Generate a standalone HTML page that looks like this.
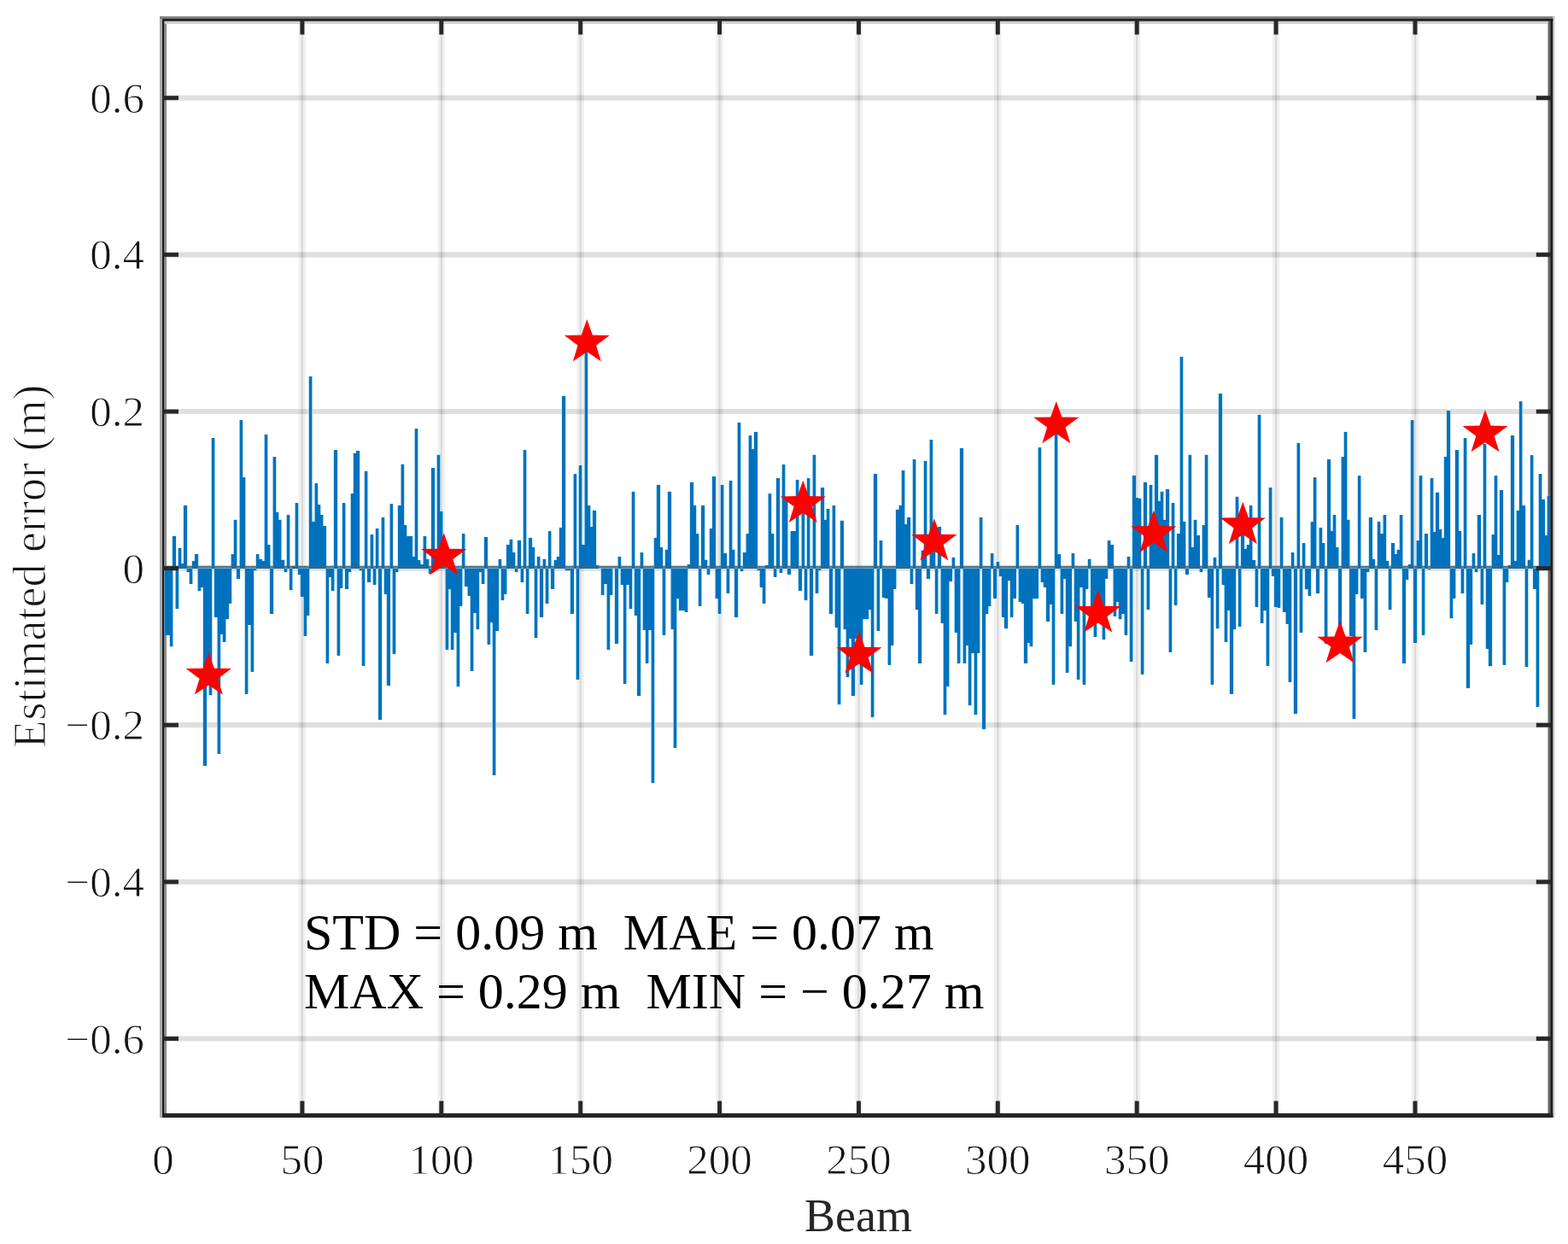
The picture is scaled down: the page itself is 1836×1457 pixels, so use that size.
<!DOCTYPE html><html><head><meta charset="utf-8"><title>Estimated error per beam</title><style>html,body{margin:0;padding:0;background:#fff;}svg{display:block;}text{font-family:"Liberation Serif","Times New Roman",serif;fill:#262626;} .tk{fill:#141414;stroke:#fff;stroke-width:0.9px;} .yl{fill:#141414;stroke:#fff;stroke-width:1.1px;}</style></head><body>
<svg width="1836" height="1457" viewBox="0 0 1836 1457">
<rect width="1836" height="1457" fill="#fff"/>
<g stroke="#000"><line x1="353.9" y1="23.4" x2="353.9" y2="1306.4" stroke-width="8.6" stroke-opacity="0.055"/><line x1="353.9" y1="23.4" x2="353.9" y2="1306.4" stroke-width="2.4" stroke-opacity="0.09"/><line x1="516.8" y1="23.4" x2="516.8" y2="1306.4" stroke-width="8.6" stroke-opacity="0.055"/><line x1="516.8" y1="23.4" x2="516.8" y2="1306.4" stroke-width="2.4" stroke-opacity="0.09"/><line x1="679.7" y1="23.4" x2="679.7" y2="1306.4" stroke-width="8.6" stroke-opacity="0.055"/><line x1="679.7" y1="23.4" x2="679.7" y2="1306.4" stroke-width="2.4" stroke-opacity="0.09"/><line x1="842.6" y1="23.4" x2="842.6" y2="1306.4" stroke-width="8.6" stroke-opacity="0.055"/><line x1="842.6" y1="23.4" x2="842.6" y2="1306.4" stroke-width="2.4" stroke-opacity="0.09"/><line x1="1005.5" y1="23.4" x2="1005.5" y2="1306.4" stroke-width="8.6" stroke-opacity="0.055"/><line x1="1005.5" y1="23.4" x2="1005.5" y2="1306.4" stroke-width="2.4" stroke-opacity="0.09"/><line x1="1168.3" y1="23.4" x2="1168.3" y2="1306.4" stroke-width="8.6" stroke-opacity="0.055"/><line x1="1168.3" y1="23.4" x2="1168.3" y2="1306.4" stroke-width="2.4" stroke-opacity="0.09"/><line x1="1331.2" y1="23.4" x2="1331.2" y2="1306.4" stroke-width="8.6" stroke-opacity="0.055"/><line x1="1331.2" y1="23.4" x2="1331.2" y2="1306.4" stroke-width="2.4" stroke-opacity="0.09"/><line x1="1494.1" y1="23.4" x2="1494.1" y2="1306.4" stroke-width="8.6" stroke-opacity="0.055"/><line x1="1494.1" y1="23.4" x2="1494.1" y2="1306.4" stroke-width="2.4" stroke-opacity="0.09"/><line x1="1657.0" y1="23.4" x2="1657.0" y2="1306.4" stroke-width="8.6" stroke-opacity="0.055"/><line x1="1657.0" y1="23.4" x2="1657.0" y2="1306.4" stroke-width="2.4" stroke-opacity="0.09"/><line x1="191.0" y1="114.7" x2="1816.5" y2="114.7" stroke-width="6.2" stroke-opacity="0.125"/><line x1="191.0" y1="298.3" x2="1816.5" y2="298.3" stroke-width="6.2" stroke-opacity="0.125"/><line x1="191.0" y1="482.0" x2="1816.5" y2="482.0" stroke-width="6.2" stroke-opacity="0.125"/><line x1="191.0" y1="665.6" x2="1816.5" y2="665.6" stroke-width="6.2" stroke-opacity="0.125"/><line x1="191.0" y1="849.2" x2="1816.5" y2="849.2" stroke-width="6.2" stroke-opacity="0.125"/><line x1="191.0" y1="1032.9" x2="1816.5" y2="1032.9" stroke-width="6.2" stroke-opacity="0.125"/><line x1="191.0" y1="1216.5" x2="1816.5" y2="1216.5" stroke-width="6.2" stroke-opacity="0.125"/></g>
<rect x="192.3" y="24.8" width="2.7" height="1279.2" fill="#8c8c8c"/>
<rect x="1812.5" y="24.8" width="2.7" height="1279.2" fill="#666"/>
<g fill="#86c6e8"><rect x="191.96" y="665.6" width="4.60" height="78.0"/><rect x="195.22" y="665.6" width="4.60" height="78.0"/><rect x="198.47" y="665.6" width="4.60" height="91.8"/><rect x="201.73" y="628.0" width="4.60" height="37.6"/><rect x="204.99" y="665.6" width="4.60" height="47.7"/><rect x="208.25" y="641.7" width="4.60" height="23.9"/><rect x="211.50" y="660.1" width="4.60" height="5.5"/><rect x="214.76" y="592.1" width="4.60" height="73.5"/><rect x="218.02" y="665.6" width="4.60" height="4.6"/><rect x="221.28" y="665.6" width="4.60" height="18.4"/><rect x="224.54" y="657.3" width="4.60" height="8.3"/><rect x="227.79" y="649.1" width="4.60" height="16.5"/><rect x="231.05" y="665.6" width="4.60" height="26.6"/><rect x="234.31" y="665.6" width="4.60" height="22.0"/><rect x="237.57" y="665.6" width="4.60" height="231.4"/><rect x="240.82" y="665.6" width="4.60" height="125.8"/><rect x="244.08" y="665.6" width="4.60" height="148.7"/><rect x="247.34" y="513.2" width="4.60" height="152.4"/><rect x="250.60" y="665.6" width="4.60" height="56.9"/><rect x="253.86" y="665.6" width="4.60" height="217.6"/><rect x="257.11" y="665.6" width="4.60" height="77.1"/><rect x="260.37" y="665.6" width="4.60" height="86.3"/><rect x="263.63" y="665.6" width="4.60" height="59.7"/><rect x="266.89" y="665.6" width="4.60" height="41.3"/><rect x="270.14" y="649.1" width="4.60" height="16.5"/><rect x="273.40" y="608.7" width="4.60" height="56.9"/><rect x="276.66" y="665.6" width="4.60" height="11.9"/><rect x="279.92" y="492.1" width="4.60" height="173.5"/><rect x="283.18" y="559.1" width="4.60" height="106.5"/><rect x="286.43" y="665.6" width="4.60" height="146.9"/><rect x="289.69" y="665.6" width="4.60" height="66.1"/><rect x="292.95" y="665.6" width="4.60" height="121.2"/><rect x="296.21" y="665.6" width="4.60" height="2.8"/><rect x="299.47" y="649.1" width="4.60" height="16.5"/><rect x="302.72" y="654.6" width="4.60" height="11.0"/><rect x="305.98" y="657.3" width="4.60" height="8.3"/><rect x="309.24" y="508.6" width="4.60" height="157.0"/><rect x="312.50" y="638.1" width="4.60" height="27.5"/><rect x="315.75" y="665.6" width="4.60" height="53.3"/><rect x="319.01" y="535.2" width="4.60" height="130.4"/><rect x="322.27" y="599.5" width="4.60" height="66.1"/><rect x="325.53" y="608.7" width="4.60" height="56.9"/><rect x="328.79" y="655.5" width="4.60" height="10.1"/><rect x="332.04" y="665.6" width="4.60" height="4.6"/><rect x="335.30" y="603.2" width="4.60" height="62.4"/><rect x="338.56" y="665.6" width="4.60" height="25.7"/><rect x="341.82" y="662.8" width="4.60" height="2.8"/><rect x="345.07" y="589.4" width="4.60" height="76.2"/><rect x="348.33" y="665.6" width="4.60" height="7.3"/><rect x="351.59" y="665.6" width="4.60" height="33.1"/><rect x="354.85" y="665.6" width="4.60" height="79.4"/><rect x="358.11" y="665.6" width="4.60" height="55.1"/><rect x="361.36" y="440.6" width="4.60" height="225.0"/><rect x="364.62" y="610.5" width="4.60" height="55.1"/><rect x="367.88" y="566.4" width="4.60" height="99.2"/><rect x="371.14" y="591.2" width="4.60" height="74.4"/><rect x="374.39" y="603.2" width="4.60" height="62.4"/><rect x="377.65" y="616.0" width="4.60" height="49.6"/><rect x="380.91" y="665.6" width="4.60" height="111.1"/><rect x="384.17" y="665.6" width="4.60" height="10.1"/><rect x="387.43" y="665.6" width="4.60" height="26.6"/><rect x="390.68" y="527.0" width="4.60" height="138.6"/><rect x="393.94" y="665.6" width="4.60" height="101.9"/><rect x="397.20" y="665.6" width="4.60" height="23.0"/><rect x="400.46" y="589.4" width="4.60" height="76.2"/><rect x="403.71" y="665.6" width="4.60" height="23.9"/><rect x="406.97" y="665.6" width="4.60" height="4.6"/><rect x="410.23" y="578.4" width="4.60" height="87.2"/><rect x="413.49" y="530.6" width="4.60" height="135.0"/><rect x="416.75" y="527.9" width="4.60" height="137.7"/><rect x="420.00" y="665.6" width="4.60" height="2.8"/><rect x="423.26" y="665.6" width="4.60" height="113.9"/><rect x="426.52" y="551.7" width="4.60" height="113.9"/><rect x="429.78" y="665.6" width="4.60" height="16.5"/><rect x="433.04" y="626.1" width="4.60" height="39.5"/><rect x="436.29" y="665.6" width="4.60" height="19.3"/><rect x="439.55" y="618.8" width="4.60" height="46.8"/><rect x="442.81" y="665.6" width="4.60" height="177.2"/><rect x="446.07" y="605.9" width="4.60" height="59.7"/><rect x="449.32" y="665.6" width="4.60" height="30.3"/><rect x="452.58" y="665.6" width="4.60" height="137.7"/><rect x="455.84" y="590.3" width="4.60" height="75.3"/><rect x="459.10" y="665.6" width="4.60" height="100.1"/><rect x="462.36" y="665.6" width="4.60" height="4.6"/><rect x="465.61" y="592.1" width="4.60" height="73.5"/><rect x="468.87" y="543.5" width="4.60" height="122.1"/><rect x="472.13" y="615.1" width="4.60" height="50.5"/><rect x="475.39" y="628.0" width="4.60" height="37.6"/><rect x="478.64" y="628.0" width="4.60" height="37.6"/><rect x="481.90" y="651.8" width="4.60" height="13.8"/><rect x="485.16" y="502.2" width="4.60" height="163.4"/><rect x="488.42" y="656.4" width="4.60" height="9.2"/><rect x="491.68" y="661.0" width="4.60" height="4.6"/><rect x="494.93" y="628.0" width="4.60" height="37.6"/><rect x="498.19" y="654.6" width="4.60" height="11.0"/><rect x="501.45" y="665.6" width="4.60" height="6.4"/><rect x="504.71" y="548.1" width="4.60" height="117.5"/><rect x="507.96" y="661.0" width="4.60" height="4.6"/><rect x="511.22" y="532.5" width="4.60" height="133.1"/><rect x="514.48" y="598.6" width="4.60" height="67.0"/><rect x="517.74" y="651.8" width="4.60" height="13.8"/><rect x="521.00" y="665.6" width="4.60" height="95.5"/><rect x="524.25" y="665.6" width="4.60" height="24.8"/><rect x="527.51" y="665.6" width="4.60" height="95.5"/><rect x="530.77" y="665.6" width="4.60" height="75.3"/><rect x="534.03" y="665.6" width="4.60" height="138.6"/><rect x="537.28" y="665.6" width="4.60" height="44.1"/><rect x="540.54" y="625.2" width="4.60" height="40.4"/><rect x="543.80" y="665.6" width="4.60" height="21.1"/><rect x="547.06" y="665.6" width="4.60" height="32.1"/><rect x="550.32" y="665.6" width="4.60" height="120.3"/><rect x="553.57" y="665.6" width="4.60" height="52.3"/><rect x="556.83" y="665.6" width="4.60" height="71.6"/><rect x="560.09" y="665.6" width="4.60" height="4.6"/><rect x="563.35" y="665.6" width="4.60" height="18.4"/><rect x="566.60" y="628.9" width="4.60" height="36.7"/><rect x="569.86" y="665.6" width="4.60" height="89.1"/><rect x="573.12" y="665.6" width="4.60" height="63.4"/><rect x="576.38" y="665.6" width="4.60" height="242.4"/><rect x="579.64" y="665.6" width="4.60" height="73.5"/><rect x="582.89" y="654.6" width="4.60" height="11.0"/><rect x="586.15" y="665.6" width="4.60" height="37.6"/><rect x="589.41" y="665.6" width="4.60" height="30.3"/><rect x="592.67" y="638.1" width="4.60" height="27.5"/><rect x="595.93" y="631.6" width="4.60" height="34.0"/><rect x="599.18" y="647.2" width="4.60" height="18.4"/><rect x="602.44" y="665.6" width="4.60" height="4.6"/><rect x="605.70" y="632.5" width="4.60" height="33.1"/><rect x="608.96" y="665.6" width="4.60" height="16.5"/><rect x="612.21" y="527.0" width="4.60" height="138.6"/><rect x="615.47" y="665.6" width="4.60" height="53.3"/><rect x="618.73" y="629.8" width="4.60" height="35.8"/><rect x="621.99" y="640.8" width="4.60" height="24.8"/><rect x="625.25" y="665.6" width="4.60" height="81.7"/><rect x="628.50" y="651.8" width="4.60" height="13.8"/><rect x="631.76" y="665.6" width="4.60" height="56.9"/><rect x="635.02" y="654.6" width="4.60" height="11.0"/><rect x="638.28" y="665.6" width="4.60" height="41.3"/><rect x="641.53" y="622.4" width="4.60" height="43.2"/><rect x="644.79" y="665.6" width="4.60" height="23.9"/><rect x="648.05" y="656.4" width="4.60" height="9.2"/><rect x="651.31" y="651.8" width="4.60" height="13.8"/><rect x="654.57" y="617.9" width="4.60" height="47.7"/><rect x="657.82" y="463.6" width="4.60" height="202.0"/><rect x="661.08" y="665.6" width="4.60" height="2.8"/><rect x="664.34" y="665.6" width="4.60" height="2.8"/><rect x="667.60" y="665.6" width="4.60" height="53.3"/><rect x="670.85" y="555.4" width="4.60" height="110.2"/><rect x="674.11" y="665.6" width="4.60" height="130.4"/><rect x="677.37" y="545.3" width="4.60" height="120.3"/><rect x="680.63" y="638.1" width="4.60" height="27.5"/><rect x="683.89" y="401.2" width="4.60" height="264.4"/><rect x="687.14" y="592.1" width="4.60" height="73.5"/><rect x="690.40" y="616.9" width="4.60" height="48.7"/><rect x="693.66" y="597.7" width="4.60" height="67.9"/><rect x="696.92" y="661.9" width="4.60" height="3.7"/><rect x="703.43" y="665.6" width="4.60" height="31.2"/><rect x="706.69" y="665.6" width="4.60" height="18.4"/><rect x="709.95" y="665.6" width="4.60" height="95.5"/><rect x="713.21" y="665.6" width="4.60" height="31.2"/><rect x="719.72" y="665.6" width="4.60" height="88.1"/><rect x="722.98" y="651.8" width="4.60" height="13.8"/><rect x="726.24" y="665.6" width="4.60" height="19.3"/><rect x="729.49" y="665.6" width="4.60" height="135.0"/><rect x="732.75" y="665.6" width="4.60" height="19.3"/><rect x="736.01" y="665.6" width="4.60" height="47.7"/><rect x="739.27" y="575.6" width="4.60" height="90.0"/><rect x="742.53" y="665.6" width="4.60" height="55.1"/><rect x="745.78" y="665.6" width="4.60" height="149.7"/><rect x="749.04" y="647.2" width="4.60" height="18.4"/><rect x="752.30" y="665.6" width="4.60" height="72.5"/><rect x="755.56" y="665.6" width="4.60" height="111.1"/><rect x="758.82" y="665.6" width="4.60" height="72.5"/><rect x="762.07" y="665.6" width="4.60" height="251.6"/><rect x="765.33" y="629.8" width="4.60" height="35.8"/><rect x="768.59" y="567.8" width="4.60" height="97.8"/><rect x="771.85" y="640.8" width="4.60" height="24.8"/><rect x="775.10" y="665.6" width="4.60" height="78.0"/><rect x="778.36" y="643.6" width="4.60" height="22.0"/><rect x="781.62" y="575.6" width="4.60" height="90.0"/><rect x="784.88" y="665.6" width="4.60" height="71.6"/><rect x="788.14" y="665.6" width="4.60" height="210.3"/><rect x="791.39" y="665.6" width="4.60" height="35.8"/><rect x="794.65" y="665.6" width="4.60" height="49.6"/><rect x="797.91" y="665.6" width="4.60" height="49.6"/><rect x="801.17" y="665.6" width="4.60" height="51.4"/><rect x="804.42" y="661.0" width="4.60" height="4.6"/><rect x="807.68" y="564.6" width="4.60" height="101.0"/><rect x="810.94" y="592.1" width="4.60" height="73.5"/><rect x="814.20" y="625.2" width="4.60" height="40.4"/><rect x="817.46" y="665.6" width="4.60" height="44.1"/><rect x="820.71" y="592.1" width="4.60" height="73.5"/><rect x="823.97" y="655.5" width="4.60" height="10.1"/><rect x="827.23" y="665.6" width="4.60" height="7.3"/><rect x="830.49" y="619.2" width="4.60" height="46.4"/><rect x="833.74" y="558.2" width="4.60" height="107.4"/><rect x="837.00" y="665.6" width="4.60" height="35.8"/><rect x="840.26" y="665.6" width="4.60" height="53.3"/><rect x="843.52" y="567.8" width="4.60" height="97.8"/><rect x="846.78" y="648.2" width="4.60" height="17.4"/><rect x="850.03" y="665.6" width="4.60" height="29.4"/><rect x="853.29" y="562.8" width="4.60" height="102.8"/><rect x="856.55" y="643.6" width="4.60" height="22.0"/><rect x="859.81" y="665.6" width="4.60" height="56.9"/><rect x="863.06" y="494.8" width="4.60" height="170.8"/><rect x="866.32" y="665.6" width="4.60" height="3.7"/><rect x="869.58" y="647.2" width="4.60" height="18.4"/><rect x="872.84" y="625.2" width="4.60" height="40.4"/><rect x="876.10" y="510.4" width="4.60" height="155.2"/><rect x="879.35" y="526.0" width="4.60" height="139.6"/><rect x="882.61" y="505.8" width="4.60" height="159.8"/><rect x="885.87" y="665.6" width="4.60" height="2.8"/><rect x="889.13" y="665.6" width="4.60" height="22.0"/><rect x="892.38" y="665.6" width="4.60" height="40.9"/><rect x="895.64" y="661.9" width="4.60" height="3.7"/><rect x="898.90" y="578.4" width="4.60" height="87.2"/><rect x="902.16" y="625.2" width="4.60" height="40.4"/><rect x="905.42" y="665.6" width="4.60" height="10.1"/><rect x="908.67" y="560.0" width="4.60" height="105.6"/><rect x="911.93" y="665.6" width="4.60" height="5.5"/><rect x="915.19" y="544.4" width="4.60" height="121.2"/><rect x="918.45" y="585.7" width="4.60" height="79.9"/><rect x="921.71" y="665.6" width="4.60" height="7.3"/><rect x="924.96" y="622.4" width="4.60" height="43.2"/><rect x="928.22" y="622.4" width="4.60" height="43.2"/><rect x="931.48" y="561.8" width="4.60" height="103.8"/><rect x="934.74" y="665.6" width="4.60" height="26.6"/><rect x="937.99" y="590.3" width="4.60" height="75.3"/><rect x="941.25" y="665.6" width="4.60" height="37.6"/><rect x="944.51" y="560.0" width="4.60" height="105.6"/><rect x="947.77" y="665.6" width="4.60" height="101.9"/><rect x="951.03" y="532.5" width="4.60" height="133.1"/><rect x="954.28" y="665.6" width="4.60" height="29.4"/><rect x="957.54" y="665.6" width="4.60" height="2.8"/><rect x="960.80" y="571.0" width="4.60" height="94.6"/><rect x="964.06" y="608.7" width="4.60" height="56.9"/><rect x="967.31" y="595.8" width="4.60" height="69.8"/><rect x="970.57" y="665.6" width="4.60" height="53.7"/><rect x="973.83" y="592.1" width="4.60" height="73.5"/><rect x="977.09" y="665.6" width="4.60" height="68.9"/><rect x="980.35" y="665.6" width="4.60" height="159.8"/><rect x="983.60" y="609.6" width="4.60" height="56.0"/><rect x="986.86" y="665.6" width="4.60" height="71.6"/><rect x="990.12" y="665.6" width="4.60" height="127.6"/><rect x="993.38" y="665.6" width="4.60" height="82.6"/><rect x="996.63" y="665.6" width="4.60" height="149.7"/><rect x="999.89" y="665.6" width="4.60" height="82.6"/><rect x="1003.15" y="665.6" width="4.60" height="101.0"/><rect x="1006.41" y="665.6" width="4.60" height="135.9"/><rect x="1009.67" y="665.6" width="4.60" height="59.7"/><rect x="1012.92" y="665.6" width="4.60" height="59.7"/><rect x="1016.18" y="665.6" width="4.60" height="48.7"/><rect x="1019.44" y="665.6" width="4.60" height="174.5"/><rect x="1022.70" y="555.0" width="4.60" height="110.6"/><rect x="1025.95" y="665.6" width="4.60" height="73.5"/><rect x="1029.21" y="633.0" width="4.60" height="32.6"/><rect x="1032.47" y="665.6" width="4.60" height="34.0"/><rect x="1035.73" y="665.6" width="4.60" height="34.9"/><rect x="1038.99" y="665.6" width="4.60" height="112.9"/><rect x="1042.24" y="665.6" width="4.60" height="90.0"/><rect x="1045.50" y="665.6" width="4.60" height="23.9"/><rect x="1048.76" y="596.7" width="4.60" height="68.9"/><rect x="1052.02" y="592.1" width="4.60" height="73.5"/><rect x="1055.27" y="550.8" width="4.60" height="114.8"/><rect x="1058.53" y="614.2" width="4.60" height="51.4"/><rect x="1061.79" y="605.9" width="4.60" height="59.7"/><rect x="1065.05" y="665.6" width="4.60" height="18.4"/><rect x="1068.31" y="538.0" width="4.60" height="127.6"/><rect x="1071.56" y="665.6" width="4.60" height="48.7"/><rect x="1074.82" y="665.6" width="4.60" height="111.1"/><rect x="1078.08" y="644.5" width="4.60" height="21.1"/><rect x="1081.34" y="539.8" width="4.60" height="125.8"/><rect x="1084.60" y="665.6" width="4.60" height="11.9"/><rect x="1087.85" y="515.0" width="4.60" height="150.6"/><rect x="1091.11" y="634.4" width="4.60" height="31.2"/><rect x="1094.37" y="665.6" width="4.60" height="53.3"/><rect x="1097.63" y="616.9" width="4.60" height="48.7"/><rect x="1100.88" y="665.6" width="4.60" height="64.3"/><rect x="1104.14" y="665.6" width="4.60" height="171.7"/><rect x="1107.40" y="665.6" width="4.60" height="138.6"/><rect x="1110.66" y="665.6" width="4.60" height="15.6"/><rect x="1113.92" y="652.7" width="4.60" height="12.9"/><rect x="1117.17" y="665.6" width="4.60" height="75.3"/><rect x="1120.43" y="665.6" width="4.60" height="111.1"/><rect x="1123.69" y="525.1" width="4.60" height="140.5"/><rect x="1126.95" y="665.6" width="4.60" height="111.1"/><rect x="1130.20" y="665.6" width="4.60" height="90.0"/><rect x="1133.46" y="665.6" width="4.60" height="160.7"/><rect x="1136.72" y="665.6" width="4.60" height="99.2"/><rect x="1139.98" y="665.6" width="4.60" height="171.7"/><rect x="1143.24" y="665.6" width="4.60" height="99.2"/><rect x="1146.49" y="605.9" width="4.60" height="59.7"/><rect x="1149.75" y="665.6" width="4.60" height="188.2"/><rect x="1153.01" y="665.6" width="4.60" height="53.3"/><rect x="1156.27" y="665.6" width="4.60" height="44.1"/><rect x="1159.52" y="648.2" width="4.60" height="17.4"/><rect x="1162.78" y="665.6" width="4.60" height="34.9"/><rect x="1166.04" y="658.3" width="4.60" height="7.3"/><rect x="1169.30" y="665.6" width="4.60" height="9.2"/><rect x="1172.56" y="665.6" width="4.60" height="56.9"/><rect x="1175.81" y="665.6" width="4.60" height="70.7"/><rect x="1179.07" y="665.6" width="4.60" height="14.7"/><rect x="1182.33" y="665.6" width="4.60" height="56.9"/><rect x="1185.59" y="665.6" width="4.60" height="34.9"/><rect x="1188.84" y="615.1" width="4.60" height="50.5"/><rect x="1192.10" y="665.6" width="4.60" height="39.5"/><rect x="1195.36" y="665.6" width="4.60" height="41.3"/><rect x="1198.62" y="665.6" width="4.60" height="111.1"/><rect x="1201.88" y="665.6" width="4.60" height="87.2"/><rect x="1205.13" y="665.6" width="4.60" height="91.8"/><rect x="1208.39" y="665.6" width="4.60" height="35.8"/><rect x="1211.65" y="665.6" width="4.60" height="35.8"/><rect x="1214.91" y="524.2" width="4.60" height="141.4"/><rect x="1218.16" y="665.6" width="4.60" height="16.5"/><rect x="1221.42" y="665.6" width="4.60" height="22.0"/><rect x="1224.68" y="665.6" width="4.60" height="62.4"/><rect x="1227.94" y="665.6" width="4.60" height="42.2"/><rect x="1231.20" y="665.6" width="4.60" height="135.9"/><rect x="1234.45" y="507.7" width="4.60" height="157.9"/><rect x="1237.71" y="649.1" width="4.60" height="16.5"/><rect x="1240.97" y="665.6" width="4.60" height="53.3"/><rect x="1244.23" y="665.6" width="4.60" height="11.9"/><rect x="1247.49" y="665.6" width="4.60" height="122.1"/><rect x="1250.74" y="665.6" width="4.60" height="91.8"/><rect x="1254.00" y="648.2" width="4.60" height="17.4"/><rect x="1257.26" y="665.6" width="4.60" height="62.4"/><rect x="1260.52" y="665.6" width="4.60" height="130.4"/><rect x="1263.77" y="665.6" width="4.60" height="22.0"/><rect x="1267.03" y="665.6" width="4.60" height="135.9"/><rect x="1270.29" y="665.6" width="4.60" height="23.9"/><rect x="1273.55" y="654.6" width="4.60" height="11.0"/><rect x="1276.81" y="665.6" width="4.60" height="45.9"/><rect x="1280.06" y="665.6" width="4.60" height="80.4"/><rect x="1283.32" y="665.6" width="4.60" height="53.3"/><rect x="1286.58" y="665.6" width="4.60" height="55.1"/><rect x="1289.84" y="665.6" width="4.60" height="83.6"/><rect x="1293.09" y="665.6" width="4.60" height="11.9"/><rect x="1296.35" y="633.0" width="4.60" height="32.6"/><rect x="1299.61" y="638.1" width="4.60" height="27.5"/><rect x="1302.87" y="665.6" width="4.60" height="56.0"/><rect x="1306.13" y="665.6" width="4.60" height="39.5"/><rect x="1309.38" y="665.6" width="4.60" height="59.7"/><rect x="1312.64" y="665.6" width="4.60" height="53.3"/><rect x="1315.90" y="665.6" width="4.60" height="78.0"/><rect x="1319.16" y="651.8" width="4.60" height="13.8"/><rect x="1322.41" y="665.6" width="4.60" height="109.3"/><rect x="1325.67" y="557.3" width="4.60" height="108.3"/><rect x="1328.93" y="583.0" width="4.60" height="82.6"/><rect x="1332.19" y="583.9" width="4.60" height="81.7"/><rect x="1335.45" y="665.6" width="4.60" height="124.0"/><rect x="1338.70" y="564.6" width="4.60" height="101.0"/><rect x="1341.96" y="665.6" width="4.60" height="48.7"/><rect x="1345.22" y="567.8" width="4.60" height="97.8"/><rect x="1348.48" y="625.2" width="4.60" height="40.4"/><rect x="1351.73" y="532.5" width="4.60" height="133.1"/><rect x="1354.99" y="586.6" width="4.60" height="79.0"/><rect x="1358.25" y="575.6" width="4.60" height="90.0"/><rect x="1361.51" y="608.7" width="4.60" height="56.9"/><rect x="1364.77" y="572.9" width="4.60" height="92.7"/><rect x="1368.02" y="665.6" width="4.60" height="98.2"/><rect x="1371.28" y="589.4" width="4.60" height="76.2"/><rect x="1374.54" y="665.6" width="4.60" height="43.2"/><rect x="1377.80" y="625.2" width="4.60" height="40.4"/><rect x="1381.05" y="417.7" width="4.60" height="247.9"/><rect x="1384.31" y="611.4" width="4.60" height="54.2"/><rect x="1387.57" y="665.6" width="4.60" height="7.3"/><rect x="1390.83" y="532.5" width="4.60" height="133.1"/><rect x="1394.09" y="640.8" width="4.60" height="24.8"/><rect x="1397.34" y="608.7" width="4.60" height="56.9"/><rect x="1400.60" y="627.0" width="4.60" height="38.6"/><rect x="1403.86" y="665.6" width="4.60" height="4.6"/><rect x="1407.12" y="615.1" width="4.60" height="50.5"/><rect x="1410.38" y="532.5" width="4.60" height="133.1"/><rect x="1413.63" y="665.6" width="4.60" height="34.0"/><rect x="1416.89" y="665.6" width="4.60" height="135.9"/><rect x="1420.15" y="652.7" width="4.60" height="12.9"/><rect x="1423.41" y="665.6" width="4.60" height="70.7"/><rect x="1426.66" y="460.8" width="4.60" height="204.8"/><rect x="1429.92" y="665.6" width="4.60" height="19.3"/><rect x="1433.18" y="665.6" width="4.60" height="86.3"/><rect x="1436.44" y="665.6" width="4.60" height="49.6"/><rect x="1439.70" y="665.6" width="4.60" height="146.9"/><rect x="1442.95" y="665.6" width="4.60" height="71.6"/><rect x="1446.21" y="581.6" width="4.60" height="84.0"/><rect x="1449.47" y="665.6" width="4.60" height="67.9"/><rect x="1452.73" y="615.1" width="4.60" height="50.5"/><rect x="1455.98" y="642.6" width="4.60" height="23.0"/><rect x="1459.24" y="638.1" width="4.60" height="27.5"/><rect x="1462.50" y="592.1" width="4.60" height="73.5"/><rect x="1465.76" y="656.4" width="4.60" height="9.2"/><rect x="1469.02" y="665.6" width="4.60" height="45.0"/><rect x="1472.27" y="485.6" width="4.60" height="180.0"/><rect x="1475.53" y="665.6" width="4.60" height="64.3"/><rect x="1478.79" y="665.6" width="4.60" height="49.6"/><rect x="1482.05" y="665.6" width="4.60" height="113.9"/><rect x="1485.30" y="571.0" width="4.60" height="94.6"/><rect x="1488.56" y="665.6" width="4.60" height="9.2"/><rect x="1491.82" y="665.6" width="4.60" height="45.0"/><rect x="1495.08" y="665.6" width="4.60" height="45.9"/><rect x="1498.34" y="605.9" width="4.60" height="59.7"/><rect x="1501.59" y="665.6" width="4.60" height="51.4"/><rect x="1504.85" y="665.6" width="4.60" height="65.2"/><rect x="1508.11" y="665.6" width="4.60" height="133.1"/><rect x="1511.37" y="647.2" width="4.60" height="18.4"/><rect x="1514.62" y="665.6" width="4.60" height="170.3"/><rect x="1517.88" y="518.7" width="4.60" height="146.9"/><rect x="1521.14" y="665.6" width="4.60" height="75.3"/><rect x="1524.40" y="636.2" width="4.60" height="29.4"/><rect x="1527.66" y="665.6" width="4.60" height="24.8"/><rect x="1530.91" y="665.6" width="4.60" height="32.1"/><rect x="1534.17" y="611.4" width="4.60" height="54.2"/><rect x="1537.43" y="559.1" width="4.60" height="106.5"/><rect x="1540.69" y="665.6" width="4.60" height="29.4"/><rect x="1543.94" y="617.9" width="4.60" height="47.7"/><rect x="1547.20" y="636.2" width="4.60" height="29.4"/><rect x="1550.46" y="665.6" width="4.60" height="88.1"/><rect x="1553.72" y="538.0" width="4.60" height="127.6"/><rect x="1556.98" y="621.5" width="4.60" height="44.1"/><rect x="1560.23" y="603.2" width="4.60" height="62.4"/><rect x="1563.49" y="640.8" width="4.60" height="24.8"/><rect x="1566.75" y="665.6" width="4.60" height="88.6"/><rect x="1570.01" y="535.2" width="4.60" height="130.4"/><rect x="1573.27" y="505.8" width="4.60" height="159.8"/><rect x="1576.52" y="608.7" width="4.60" height="56.9"/><rect x="1579.78" y="665.6" width="4.60" height="79.4"/><rect x="1583.04" y="665.6" width="4.60" height="176.3"/><rect x="1586.30" y="665.6" width="4.60" height="30.3"/><rect x="1589.55" y="557.3" width="4.60" height="108.3"/><rect x="1592.81" y="665.6" width="4.60" height="34.9"/><rect x="1596.07" y="665.6" width="4.60" height="98.2"/><rect x="1599.33" y="665.6" width="4.60" height="4.6"/><rect x="1602.59" y="605.9" width="4.60" height="59.7"/><rect x="1605.84" y="654.6" width="4.60" height="11.0"/><rect x="1609.10" y="665.6" width="4.60" height="72.5"/><rect x="1612.36" y="611.4" width="4.60" height="54.2"/><rect x="1615.62" y="625.2" width="4.60" height="40.4"/><rect x="1618.87" y="603.2" width="4.60" height="62.4"/><rect x="1622.13" y="657.3" width="4.60" height="8.3"/><rect x="1625.39" y="665.6" width="4.60" height="48.7"/><rect x="1628.65" y="636.2" width="4.60" height="29.4"/><rect x="1631.91" y="649.1" width="4.60" height="16.5"/><rect x="1635.16" y="643.6" width="4.60" height="22.0"/><rect x="1638.42" y="603.2" width="4.60" height="62.4"/><rect x="1641.68" y="665.6" width="4.60" height="111.1"/><rect x="1644.94" y="665.6" width="4.60" height="13.8"/><rect x="1648.19" y="661.0" width="4.60" height="4.6"/><rect x="1651.45" y="492.1" width="4.60" height="173.5"/><rect x="1654.71" y="665.6" width="4.60" height="87.2"/><rect x="1657.97" y="633.0" width="4.60" height="32.6"/><rect x="1661.23" y="557.3" width="4.60" height="108.3"/><rect x="1664.48" y="665.6" width="4.60" height="78.0"/><rect x="1667.74" y="625.2" width="4.60" height="40.4"/><rect x="1671.00" y="665.6" width="4.60" height="1.8"/><rect x="1674.26" y="560.0" width="4.60" height="105.6"/><rect x="1677.51" y="623.4" width="4.60" height="42.2"/><rect x="1680.77" y="576.5" width="4.60" height="89.1"/><rect x="1684.03" y="619.7" width="4.60" height="45.9"/><rect x="1687.29" y="629.8" width="4.60" height="35.8"/><rect x="1690.55" y="535.2" width="4.60" height="130.4"/><rect x="1693.80" y="481.0" width="4.60" height="184.6"/><rect x="1697.06" y="665.6" width="4.60" height="58.8"/><rect x="1700.32" y="665.6" width="4.60" height="34.9"/><rect x="1703.58" y="527.0" width="4.60" height="138.6"/><rect x="1706.83" y="622.4" width="4.60" height="43.2"/><rect x="1710.09" y="665.6" width="4.60" height="29.4"/><rect x="1713.35" y="513.2" width="4.60" height="152.4"/><rect x="1716.61" y="665.6" width="4.60" height="140.5"/><rect x="1719.87" y="665.6" width="4.60" height="89.1"/><rect x="1723.12" y="648.2" width="4.60" height="17.4"/><rect x="1726.38" y="665.6" width="4.60" height="4.6"/><rect x="1729.64" y="603.2" width="4.60" height="62.4"/><rect x="1732.90" y="665.6" width="4.60" height="42.2"/><rect x="1736.15" y="519.6" width="4.60" height="146.0"/><rect x="1739.41" y="665.6" width="4.60" height="94.2"/><rect x="1742.67" y="665.6" width="4.60" height="114.8"/><rect x="1745.93" y="626.1" width="4.60" height="39.5"/><rect x="1749.19" y="557.3" width="4.60" height="108.3"/><rect x="1752.44" y="650.0" width="4.60" height="15.6"/><rect x="1755.70" y="573.8" width="4.60" height="91.8"/><rect x="1758.96" y="665.6" width="4.60" height="112.9"/><rect x="1762.22" y="665.6" width="4.60" height="16.5"/><rect x="1765.48" y="661.9" width="4.60" height="3.7"/><rect x="1768.73" y="510.4" width="4.60" height="155.2"/><rect x="1771.99" y="657.3" width="4.60" height="8.3"/><rect x="1775.25" y="597.7" width="4.60" height="67.9"/><rect x="1778.51" y="470.0" width="4.60" height="195.6"/><rect x="1781.76" y="592.1" width="4.60" height="73.5"/><rect x="1785.02" y="665.6" width="4.60" height="115.7"/><rect x="1788.28" y="655.5" width="4.60" height="10.1"/><rect x="1791.54" y="533.4" width="4.60" height="132.2"/><rect x="1794.80" y="665.6" width="4.60" height="23.9"/><rect x="1798.05" y="665.6" width="4.60" height="162.5"/><rect x="1801.31" y="555.0" width="4.60" height="110.6"/><rect x="1804.57" y="584.8" width="4.60" height="80.8"/><rect x="1807.83" y="627.0" width="4.60" height="38.6"/><rect x="1811.08" y="580.7" width="4.60" height="84.9"/></g>
<g fill="#0072bd" shape-rendering="crispEdges"><rect x="192.63" y="665.6" width="3.26" height="78.0"/><rect x="195.89" y="665.6" width="3.26" height="78.0"/><rect x="199.14" y="665.6" width="3.26" height="91.8"/><rect x="202.40" y="628.0" width="3.26" height="37.6"/><rect x="205.66" y="665.6" width="3.26" height="47.7"/><rect x="208.92" y="641.7" width="3.26" height="23.9"/><rect x="212.18" y="660.1" width="3.26" height="5.5"/><rect x="215.43" y="592.1" width="3.26" height="73.5"/><rect x="218.69" y="665.6" width="3.26" height="4.6"/><rect x="221.95" y="665.6" width="3.26" height="18.4"/><rect x="225.21" y="657.3" width="3.26" height="8.3"/><rect x="228.46" y="649.1" width="3.26" height="16.5"/><rect x="231.72" y="665.6" width="3.26" height="26.6"/><rect x="234.98" y="665.6" width="3.26" height="22.0"/><rect x="238.24" y="665.6" width="3.26" height="231.4"/><rect x="241.50" y="665.6" width="3.26" height="125.8"/><rect x="244.75" y="665.6" width="3.26" height="148.7"/><rect x="248.01" y="513.2" width="3.26" height="152.4"/><rect x="251.27" y="665.6" width="3.26" height="56.9"/><rect x="254.53" y="665.6" width="3.26" height="217.6"/><rect x="257.78" y="665.6" width="3.26" height="77.1"/><rect x="261.04" y="665.6" width="3.26" height="86.3"/><rect x="264.30" y="665.6" width="3.26" height="59.7"/><rect x="267.56" y="665.6" width="3.26" height="41.3"/><rect x="270.82" y="649.1" width="3.26" height="16.5"/><rect x="274.07" y="608.7" width="3.26" height="56.9"/><rect x="277.33" y="665.6" width="3.26" height="11.9"/><rect x="280.59" y="492.1" width="3.26" height="173.5"/><rect x="283.85" y="559.1" width="3.26" height="106.5"/><rect x="287.11" y="665.6" width="3.26" height="146.9"/><rect x="290.36" y="665.6" width="3.26" height="66.1"/><rect x="293.62" y="665.6" width="3.26" height="121.2"/><rect x="296.88" y="665.6" width="3.26" height="2.8"/><rect x="300.14" y="649.1" width="3.26" height="16.5"/><rect x="303.39" y="654.6" width="3.26" height="11.0"/><rect x="306.65" y="657.3" width="3.26" height="8.3"/><rect x="309.91" y="508.6" width="3.26" height="157.0"/><rect x="313.17" y="638.1" width="3.26" height="27.5"/><rect x="316.43" y="665.6" width="3.26" height="53.3"/><rect x="319.68" y="535.2" width="3.26" height="130.4"/><rect x="322.94" y="599.5" width="3.26" height="66.1"/><rect x="326.20" y="608.7" width="3.26" height="56.9"/><rect x="329.46" y="655.5" width="3.26" height="10.1"/><rect x="332.71" y="665.6" width="3.26" height="4.6"/><rect x="335.97" y="603.2" width="3.26" height="62.4"/><rect x="339.23" y="665.6" width="3.26" height="25.7"/><rect x="342.49" y="662.8" width="3.26" height="2.8"/><rect x="345.75" y="589.4" width="3.26" height="76.2"/><rect x="349.00" y="665.6" width="3.26" height="7.3"/><rect x="352.26" y="665.6" width="3.26" height="33.1"/><rect x="355.52" y="665.6" width="3.26" height="79.4"/><rect x="358.78" y="665.6" width="3.26" height="55.1"/><rect x="362.03" y="440.6" width="3.26" height="225.0"/><rect x="365.29" y="610.5" width="3.26" height="55.1"/><rect x="368.55" y="566.4" width="3.26" height="99.2"/><rect x="371.81" y="591.2" width="3.26" height="74.4"/><rect x="375.07" y="603.2" width="3.26" height="62.4"/><rect x="378.32" y="616.0" width="3.26" height="49.6"/><rect x="381.58" y="665.6" width="3.26" height="111.1"/><rect x="384.84" y="665.6" width="3.26" height="10.1"/><rect x="388.10" y="665.6" width="3.26" height="26.6"/><rect x="391.35" y="527.0" width="3.26" height="138.6"/><rect x="394.61" y="665.6" width="3.26" height="101.9"/><rect x="397.87" y="665.6" width="3.26" height="23.0"/><rect x="401.13" y="589.4" width="3.26" height="76.2"/><rect x="404.39" y="665.6" width="3.26" height="23.9"/><rect x="407.64" y="665.6" width="3.26" height="4.6"/><rect x="410.90" y="578.4" width="3.26" height="87.2"/><rect x="414.16" y="530.6" width="3.26" height="135.0"/><rect x="417.42" y="527.9" width="3.26" height="137.7"/><rect x="420.67" y="665.6" width="3.26" height="2.8"/><rect x="423.93" y="665.6" width="3.26" height="113.9"/><rect x="427.19" y="551.7" width="3.26" height="113.9"/><rect x="430.45" y="665.6" width="3.26" height="16.5"/><rect x="433.71" y="626.1" width="3.26" height="39.5"/><rect x="436.96" y="665.6" width="3.26" height="19.3"/><rect x="440.22" y="618.8" width="3.26" height="46.8"/><rect x="443.48" y="665.6" width="3.26" height="177.2"/><rect x="446.74" y="605.9" width="3.26" height="59.7"/><rect x="450.00" y="665.6" width="3.26" height="30.3"/><rect x="453.25" y="665.6" width="3.26" height="137.7"/><rect x="456.51" y="590.3" width="3.26" height="75.3"/><rect x="459.77" y="665.6" width="3.26" height="100.1"/><rect x="463.03" y="665.6" width="3.26" height="4.6"/><rect x="466.28" y="592.1" width="3.26" height="73.5"/><rect x="469.54" y="543.5" width="3.26" height="122.1"/><rect x="472.80" y="615.1" width="3.26" height="50.5"/><rect x="476.06" y="628.0" width="3.26" height="37.6"/><rect x="479.32" y="628.0" width="3.26" height="37.6"/><rect x="482.57" y="651.8" width="3.26" height="13.8"/><rect x="485.83" y="502.2" width="3.26" height="163.4"/><rect x="489.09" y="656.4" width="3.26" height="9.2"/><rect x="492.35" y="661.0" width="3.26" height="4.6"/><rect x="495.60" y="628.0" width="3.26" height="37.6"/><rect x="498.86" y="654.6" width="3.26" height="11.0"/><rect x="502.12" y="665.6" width="3.26" height="6.4"/><rect x="505.38" y="548.1" width="3.26" height="117.5"/><rect x="508.64" y="661.0" width="3.26" height="4.6"/><rect x="511.89" y="532.5" width="3.26" height="133.1"/><rect x="515.15" y="598.6" width="3.26" height="67.0"/><rect x="518.41" y="651.8" width="3.26" height="13.8"/><rect x="521.67" y="665.6" width="3.26" height="95.5"/><rect x="524.92" y="665.6" width="3.26" height="24.8"/><rect x="528.18" y="665.6" width="3.26" height="95.5"/><rect x="531.44" y="665.6" width="3.26" height="75.3"/><rect x="534.70" y="665.6" width="3.26" height="138.6"/><rect x="537.96" y="665.6" width="3.26" height="44.1"/><rect x="541.21" y="625.2" width="3.26" height="40.4"/><rect x="544.47" y="665.6" width="3.26" height="21.1"/><rect x="547.73" y="665.6" width="3.26" height="32.1"/><rect x="550.99" y="665.6" width="3.26" height="120.3"/><rect x="554.24" y="665.6" width="3.26" height="52.3"/><rect x="557.50" y="665.6" width="3.26" height="71.6"/><rect x="560.76" y="665.6" width="3.26" height="4.6"/><rect x="564.02" y="665.6" width="3.26" height="18.4"/><rect x="567.28" y="628.9" width="3.26" height="36.7"/><rect x="570.53" y="665.6" width="3.26" height="89.1"/><rect x="573.79" y="665.6" width="3.26" height="63.4"/><rect x="577.05" y="665.6" width="3.26" height="242.4"/><rect x="580.31" y="665.6" width="3.26" height="73.5"/><rect x="583.56" y="654.6" width="3.26" height="11.0"/><rect x="586.82" y="665.6" width="3.26" height="37.6"/><rect x="590.08" y="665.6" width="3.26" height="30.3"/><rect x="593.34" y="638.1" width="3.26" height="27.5"/><rect x="596.60" y="631.6" width="3.26" height="34.0"/><rect x="599.85" y="647.2" width="3.26" height="18.4"/><rect x="603.11" y="665.6" width="3.26" height="4.6"/><rect x="606.37" y="632.5" width="3.26" height="33.1"/><rect x="609.63" y="665.6" width="3.26" height="16.5"/><rect x="612.89" y="527.0" width="3.26" height="138.6"/><rect x="616.14" y="665.6" width="3.26" height="53.3"/><rect x="619.40" y="629.8" width="3.26" height="35.8"/><rect x="622.66" y="640.8" width="3.26" height="24.8"/><rect x="625.92" y="665.6" width="3.26" height="81.7"/><rect x="629.17" y="651.8" width="3.26" height="13.8"/><rect x="632.43" y="665.6" width="3.26" height="56.9"/><rect x="635.69" y="654.6" width="3.26" height="11.0"/><rect x="638.95" y="665.6" width="3.26" height="41.3"/><rect x="642.21" y="622.4" width="3.26" height="43.2"/><rect x="645.46" y="665.6" width="3.26" height="23.9"/><rect x="648.72" y="656.4" width="3.26" height="9.2"/><rect x="651.98" y="651.8" width="3.26" height="13.8"/><rect x="655.24" y="617.9" width="3.26" height="47.7"/><rect x="658.49" y="463.6" width="3.26" height="202.0"/><rect x="661.75" y="665.6" width="3.26" height="2.8"/><rect x="665.01" y="665.6" width="3.26" height="2.8"/><rect x="668.27" y="665.6" width="3.26" height="53.3"/><rect x="671.53" y="555.4" width="3.26" height="110.2"/><rect x="674.78" y="665.6" width="3.26" height="130.4"/><rect x="678.04" y="545.3" width="3.26" height="120.3"/><rect x="681.30" y="638.1" width="3.26" height="27.5"/><rect x="684.56" y="401.2" width="3.26" height="264.4"/><rect x="687.81" y="592.1" width="3.26" height="73.5"/><rect x="691.07" y="616.9" width="3.26" height="48.7"/><rect x="694.33" y="597.7" width="3.26" height="67.9"/><rect x="697.59" y="661.9" width="3.26" height="3.7"/><rect x="704.10" y="665.6" width="3.26" height="31.2"/><rect x="707.36" y="665.6" width="3.26" height="18.4"/><rect x="710.62" y="665.6" width="3.26" height="95.5"/><rect x="713.88" y="665.6" width="3.26" height="31.2"/><rect x="720.39" y="665.6" width="3.26" height="88.1"/><rect x="723.65" y="651.8" width="3.26" height="13.8"/><rect x="726.91" y="665.6" width="3.26" height="19.3"/><rect x="730.17" y="665.6" width="3.26" height="135.0"/><rect x="733.42" y="665.6" width="3.26" height="19.3"/><rect x="736.68" y="665.6" width="3.26" height="47.7"/><rect x="739.94" y="575.6" width="3.26" height="90.0"/><rect x="743.20" y="665.6" width="3.26" height="55.1"/><rect x="746.45" y="665.6" width="3.26" height="149.7"/><rect x="749.71" y="647.2" width="3.26" height="18.4"/><rect x="752.97" y="665.6" width="3.26" height="72.5"/><rect x="756.23" y="665.6" width="3.26" height="111.1"/><rect x="759.49" y="665.6" width="3.26" height="72.5"/><rect x="762.74" y="665.6" width="3.26" height="251.6"/><rect x="766.00" y="629.8" width="3.26" height="35.8"/><rect x="769.26" y="567.8" width="3.26" height="97.8"/><rect x="772.52" y="640.8" width="3.26" height="24.8"/><rect x="775.78" y="665.6" width="3.26" height="78.0"/><rect x="779.03" y="643.6" width="3.26" height="22.0"/><rect x="782.29" y="575.6" width="3.26" height="90.0"/><rect x="785.55" y="665.6" width="3.26" height="71.6"/><rect x="788.81" y="665.6" width="3.26" height="210.3"/><rect x="792.06" y="665.6" width="3.26" height="35.8"/><rect x="795.32" y="665.6" width="3.26" height="49.6"/><rect x="798.58" y="665.6" width="3.26" height="49.6"/><rect x="801.84" y="665.6" width="3.26" height="51.4"/><rect x="805.10" y="661.0" width="3.26" height="4.6"/><rect x="808.35" y="564.6" width="3.26" height="101.0"/><rect x="811.61" y="592.1" width="3.26" height="73.5"/><rect x="814.87" y="625.2" width="3.26" height="40.4"/><rect x="818.13" y="665.6" width="3.26" height="44.1"/><rect x="821.38" y="592.1" width="3.26" height="73.5"/><rect x="824.64" y="655.5" width="3.26" height="10.1"/><rect x="827.90" y="665.6" width="3.26" height="7.3"/><rect x="831.16" y="619.2" width="3.26" height="46.4"/><rect x="834.42" y="558.2" width="3.26" height="107.4"/><rect x="837.67" y="665.6" width="3.26" height="35.8"/><rect x="840.93" y="665.6" width="3.26" height="53.3"/><rect x="844.19" y="567.8" width="3.26" height="97.8"/><rect x="847.45" y="648.2" width="3.26" height="17.4"/><rect x="850.70" y="665.6" width="3.26" height="29.4"/><rect x="853.96" y="562.8" width="3.26" height="102.8"/><rect x="857.22" y="643.6" width="3.26" height="22.0"/><rect x="860.48" y="665.6" width="3.26" height="56.9"/><rect x="863.74" y="494.8" width="3.26" height="170.8"/><rect x="866.99" y="665.6" width="3.26" height="3.7"/><rect x="870.25" y="647.2" width="3.26" height="18.4"/><rect x="873.51" y="625.2" width="3.26" height="40.4"/><rect x="876.77" y="510.4" width="3.26" height="155.2"/><rect x="880.02" y="526.0" width="3.26" height="139.6"/><rect x="883.28" y="505.8" width="3.26" height="159.8"/><rect x="886.54" y="665.6" width="3.26" height="2.8"/><rect x="889.80" y="665.6" width="3.26" height="22.0"/><rect x="893.06" y="665.6" width="3.26" height="40.9"/><rect x="896.31" y="661.9" width="3.26" height="3.7"/><rect x="899.57" y="578.4" width="3.26" height="87.2"/><rect x="902.83" y="625.2" width="3.26" height="40.4"/><rect x="906.09" y="665.6" width="3.26" height="10.1"/><rect x="909.34" y="560.0" width="3.26" height="105.6"/><rect x="912.60" y="665.6" width="3.26" height="5.5"/><rect x="915.86" y="544.4" width="3.26" height="121.2"/><rect x="919.12" y="585.7" width="3.26" height="79.9"/><rect x="922.38" y="665.6" width="3.26" height="7.3"/><rect x="925.63" y="622.4" width="3.26" height="43.2"/><rect x="928.89" y="622.4" width="3.26" height="43.2"/><rect x="932.15" y="561.8" width="3.26" height="103.8"/><rect x="935.41" y="665.6" width="3.26" height="26.6"/><rect x="938.67" y="590.3" width="3.26" height="75.3"/><rect x="941.92" y="665.6" width="3.26" height="37.6"/><rect x="945.18" y="560.0" width="3.26" height="105.6"/><rect x="948.44" y="665.6" width="3.26" height="101.9"/><rect x="951.70" y="532.5" width="3.26" height="133.1"/><rect x="954.95" y="665.6" width="3.26" height="29.4"/><rect x="958.21" y="665.6" width="3.26" height="2.8"/><rect x="961.47" y="571.0" width="3.26" height="94.6"/><rect x="964.73" y="608.7" width="3.26" height="56.9"/><rect x="967.99" y="595.8" width="3.26" height="69.8"/><rect x="971.24" y="665.6" width="3.26" height="53.7"/><rect x="974.50" y="592.1" width="3.26" height="73.5"/><rect x="977.76" y="665.6" width="3.26" height="68.9"/><rect x="981.02" y="665.6" width="3.26" height="159.8"/><rect x="984.27" y="609.6" width="3.26" height="56.0"/><rect x="987.53" y="665.6" width="3.26" height="71.6"/><rect x="990.79" y="665.6" width="3.26" height="127.6"/><rect x="994.05" y="665.6" width="3.26" height="82.6"/><rect x="997.31" y="665.6" width="3.26" height="149.7"/><rect x="1000.56" y="665.6" width="3.26" height="82.6"/><rect x="1003.82" y="665.6" width="3.26" height="101.0"/><rect x="1007.08" y="665.6" width="3.26" height="135.9"/><rect x="1010.34" y="665.6" width="3.26" height="59.7"/><rect x="1013.59" y="665.6" width="3.26" height="59.7"/><rect x="1016.85" y="665.6" width="3.26" height="48.7"/><rect x="1020.11" y="665.6" width="3.26" height="174.5"/><rect x="1023.37" y="555.0" width="3.26" height="110.6"/><rect x="1026.63" y="665.6" width="3.26" height="73.5"/><rect x="1029.88" y="633.0" width="3.26" height="32.6"/><rect x="1033.14" y="665.6" width="3.26" height="34.0"/><rect x="1036.40" y="665.6" width="3.26" height="34.9"/><rect x="1039.66" y="665.6" width="3.26" height="112.9"/><rect x="1042.91" y="665.6" width="3.26" height="90.0"/><rect x="1046.17" y="665.6" width="3.26" height="23.9"/><rect x="1049.43" y="596.7" width="3.26" height="68.9"/><rect x="1052.69" y="592.1" width="3.26" height="73.5"/><rect x="1055.95" y="550.8" width="3.26" height="114.8"/><rect x="1059.20" y="614.2" width="3.26" height="51.4"/><rect x="1062.46" y="605.9" width="3.26" height="59.7"/><rect x="1065.72" y="665.6" width="3.26" height="18.4"/><rect x="1068.98" y="538.0" width="3.26" height="127.6"/><rect x="1072.23" y="665.6" width="3.26" height="48.7"/><rect x="1075.49" y="665.6" width="3.26" height="111.1"/><rect x="1078.75" y="644.5" width="3.26" height="21.1"/><rect x="1082.01" y="539.8" width="3.26" height="125.8"/><rect x="1085.27" y="665.6" width="3.26" height="11.9"/><rect x="1088.52" y="515.0" width="3.26" height="150.6"/><rect x="1091.78" y="634.4" width="3.26" height="31.2"/><rect x="1095.04" y="665.6" width="3.26" height="53.3"/><rect x="1098.30" y="616.9" width="3.26" height="48.7"/><rect x="1101.56" y="665.6" width="3.26" height="64.3"/><rect x="1104.81" y="665.6" width="3.26" height="171.7"/><rect x="1108.07" y="665.6" width="3.26" height="138.6"/><rect x="1111.33" y="665.6" width="3.26" height="15.6"/><rect x="1114.59" y="652.7" width="3.26" height="12.9"/><rect x="1117.84" y="665.6" width="3.26" height="75.3"/><rect x="1121.10" y="665.6" width="3.26" height="111.1"/><rect x="1124.36" y="525.1" width="3.26" height="140.5"/><rect x="1127.62" y="665.6" width="3.26" height="111.1"/><rect x="1130.88" y="665.6" width="3.26" height="90.0"/><rect x="1134.13" y="665.6" width="3.26" height="160.7"/><rect x="1137.39" y="665.6" width="3.26" height="99.2"/><rect x="1140.65" y="665.6" width="3.26" height="171.7"/><rect x="1143.91" y="665.6" width="3.26" height="99.2"/><rect x="1147.16" y="605.9" width="3.26" height="59.7"/><rect x="1150.42" y="665.6" width="3.26" height="188.2"/><rect x="1153.68" y="665.6" width="3.26" height="53.3"/><rect x="1156.94" y="665.6" width="3.26" height="44.1"/><rect x="1160.20" y="648.2" width="3.26" height="17.4"/><rect x="1163.45" y="665.6" width="3.26" height="34.9"/><rect x="1166.71" y="658.3" width="3.26" height="7.3"/><rect x="1169.97" y="665.6" width="3.26" height="9.2"/><rect x="1173.23" y="665.6" width="3.26" height="56.9"/><rect x="1176.48" y="665.6" width="3.26" height="70.7"/><rect x="1179.74" y="665.6" width="3.26" height="14.7"/><rect x="1183.00" y="665.6" width="3.26" height="56.9"/><rect x="1186.26" y="665.6" width="3.26" height="34.9"/><rect x="1189.52" y="615.1" width="3.26" height="50.5"/><rect x="1192.77" y="665.6" width="3.26" height="39.5"/><rect x="1196.03" y="665.6" width="3.26" height="41.3"/><rect x="1199.29" y="665.6" width="3.26" height="111.1"/><rect x="1202.55" y="665.6" width="3.26" height="87.2"/><rect x="1205.80" y="665.6" width="3.26" height="91.8"/><rect x="1209.06" y="665.6" width="3.26" height="35.8"/><rect x="1212.32" y="665.6" width="3.26" height="35.8"/><rect x="1215.58" y="524.2" width="3.26" height="141.4"/><rect x="1218.84" y="665.6" width="3.26" height="16.5"/><rect x="1222.09" y="665.6" width="3.26" height="22.0"/><rect x="1225.35" y="665.6" width="3.26" height="62.4"/><rect x="1228.61" y="665.6" width="3.26" height="42.2"/><rect x="1231.87" y="665.6" width="3.26" height="135.9"/><rect x="1235.12" y="507.7" width="3.26" height="157.9"/><rect x="1238.38" y="649.1" width="3.26" height="16.5"/><rect x="1241.64" y="665.6" width="3.26" height="53.3"/><rect x="1244.90" y="665.6" width="3.26" height="11.9"/><rect x="1248.16" y="665.6" width="3.26" height="122.1"/><rect x="1251.41" y="665.6" width="3.26" height="91.8"/><rect x="1254.67" y="648.2" width="3.26" height="17.4"/><rect x="1257.93" y="665.6" width="3.26" height="62.4"/><rect x="1261.19" y="665.6" width="3.26" height="130.4"/><rect x="1264.45" y="665.6" width="3.26" height="22.0"/><rect x="1267.70" y="665.6" width="3.26" height="135.9"/><rect x="1270.96" y="665.6" width="3.26" height="23.9"/><rect x="1274.22" y="654.6" width="3.26" height="11.0"/><rect x="1277.48" y="665.6" width="3.26" height="45.9"/><rect x="1280.73" y="665.6" width="3.26" height="80.4"/><rect x="1283.99" y="665.6" width="3.26" height="53.3"/><rect x="1287.25" y="665.6" width="3.26" height="55.1"/><rect x="1290.51" y="665.6" width="3.26" height="83.6"/><rect x="1293.77" y="665.6" width="3.26" height="11.9"/><rect x="1297.02" y="633.0" width="3.26" height="32.6"/><rect x="1300.28" y="638.1" width="3.26" height="27.5"/><rect x="1303.54" y="665.6" width="3.26" height="56.0"/><rect x="1306.80" y="665.6" width="3.26" height="39.5"/><rect x="1310.05" y="665.6" width="3.26" height="59.7"/><rect x="1313.31" y="665.6" width="3.26" height="53.3"/><rect x="1316.57" y="665.6" width="3.26" height="78.0"/><rect x="1319.83" y="651.8" width="3.26" height="13.8"/><rect x="1323.09" y="665.6" width="3.26" height="109.3"/><rect x="1326.34" y="557.3" width="3.26" height="108.3"/><rect x="1329.60" y="583.0" width="3.26" height="82.6"/><rect x="1332.86" y="583.9" width="3.26" height="81.7"/><rect x="1336.12" y="665.6" width="3.26" height="124.0"/><rect x="1339.37" y="564.6" width="3.26" height="101.0"/><rect x="1342.63" y="665.6" width="3.26" height="48.7"/><rect x="1345.89" y="567.8" width="3.26" height="97.8"/><rect x="1349.15" y="625.2" width="3.26" height="40.4"/><rect x="1352.41" y="532.5" width="3.26" height="133.1"/><rect x="1355.66" y="586.6" width="3.26" height="79.0"/><rect x="1358.92" y="575.6" width="3.26" height="90.0"/><rect x="1362.18" y="608.7" width="3.26" height="56.9"/><rect x="1365.44" y="572.9" width="3.26" height="92.7"/><rect x="1368.69" y="665.6" width="3.26" height="98.2"/><rect x="1371.95" y="589.4" width="3.26" height="76.2"/><rect x="1375.21" y="665.6" width="3.26" height="43.2"/><rect x="1378.47" y="625.2" width="3.26" height="40.4"/><rect x="1381.73" y="417.7" width="3.26" height="247.9"/><rect x="1384.98" y="611.4" width="3.26" height="54.2"/><rect x="1388.24" y="665.6" width="3.26" height="7.3"/><rect x="1391.50" y="532.5" width="3.26" height="133.1"/><rect x="1394.76" y="640.8" width="3.26" height="24.8"/><rect x="1398.01" y="608.7" width="3.26" height="56.9"/><rect x="1401.27" y="627.0" width="3.26" height="38.6"/><rect x="1404.53" y="665.6" width="3.26" height="4.6"/><rect x="1407.79" y="615.1" width="3.26" height="50.5"/><rect x="1411.05" y="532.5" width="3.26" height="133.1"/><rect x="1414.30" y="665.6" width="3.26" height="34.0"/><rect x="1417.56" y="665.6" width="3.26" height="135.9"/><rect x="1420.82" y="652.7" width="3.26" height="12.9"/><rect x="1424.08" y="665.6" width="3.26" height="70.7"/><rect x="1427.34" y="460.8" width="3.26" height="204.8"/><rect x="1430.59" y="665.6" width="3.26" height="19.3"/><rect x="1433.85" y="665.6" width="3.26" height="86.3"/><rect x="1437.11" y="665.6" width="3.26" height="49.6"/><rect x="1440.37" y="665.6" width="3.26" height="146.9"/><rect x="1443.62" y="665.6" width="3.26" height="71.6"/><rect x="1446.88" y="581.6" width="3.26" height="84.0"/><rect x="1450.14" y="665.6" width="3.26" height="67.9"/><rect x="1453.40" y="615.1" width="3.26" height="50.5"/><rect x="1456.66" y="642.6" width="3.26" height="23.0"/><rect x="1459.91" y="638.1" width="3.26" height="27.5"/><rect x="1463.17" y="592.1" width="3.26" height="73.5"/><rect x="1466.43" y="656.4" width="3.26" height="9.2"/><rect x="1469.69" y="665.6" width="3.26" height="45.0"/><rect x="1472.94" y="485.6" width="3.26" height="180.0"/><rect x="1476.20" y="665.6" width="3.26" height="64.3"/><rect x="1479.46" y="665.6" width="3.26" height="49.6"/><rect x="1482.72" y="665.6" width="3.26" height="113.9"/><rect x="1485.98" y="571.0" width="3.26" height="94.6"/><rect x="1489.23" y="665.6" width="3.26" height="9.2"/><rect x="1492.49" y="665.6" width="3.26" height="45.0"/><rect x="1495.75" y="665.6" width="3.26" height="45.9"/><rect x="1499.01" y="605.9" width="3.26" height="59.7"/><rect x="1502.26" y="665.6" width="3.26" height="51.4"/><rect x="1505.52" y="665.6" width="3.26" height="65.2"/><rect x="1508.78" y="665.6" width="3.26" height="133.1"/><rect x="1512.04" y="647.2" width="3.26" height="18.4"/><rect x="1515.30" y="665.6" width="3.26" height="170.3"/><rect x="1518.55" y="518.7" width="3.26" height="146.9"/><rect x="1521.81" y="665.6" width="3.26" height="75.3"/><rect x="1525.07" y="636.2" width="3.26" height="29.4"/><rect x="1528.33" y="665.6" width="3.26" height="24.8"/><rect x="1531.58" y="665.6" width="3.26" height="32.1"/><rect x="1534.84" y="611.4" width="3.26" height="54.2"/><rect x="1538.10" y="559.1" width="3.26" height="106.5"/><rect x="1541.36" y="665.6" width="3.26" height="29.4"/><rect x="1544.62" y="617.9" width="3.26" height="47.7"/><rect x="1547.87" y="636.2" width="3.26" height="29.4"/><rect x="1551.13" y="665.6" width="3.26" height="88.1"/><rect x="1554.39" y="538.0" width="3.26" height="127.6"/><rect x="1557.65" y="621.5" width="3.26" height="44.1"/><rect x="1560.90" y="603.2" width="3.26" height="62.4"/><rect x="1564.16" y="640.8" width="3.26" height="24.8"/><rect x="1567.42" y="665.6" width="3.26" height="88.6"/><rect x="1570.68" y="535.2" width="3.26" height="130.4"/><rect x="1573.94" y="505.8" width="3.26" height="159.8"/><rect x="1577.19" y="608.7" width="3.26" height="56.9"/><rect x="1580.45" y="665.6" width="3.26" height="79.4"/><rect x="1583.71" y="665.6" width="3.26" height="176.3"/><rect x="1586.97" y="665.6" width="3.26" height="30.3"/><rect x="1590.23" y="557.3" width="3.26" height="108.3"/><rect x="1593.48" y="665.6" width="3.26" height="34.9"/><rect x="1596.74" y="665.6" width="3.26" height="98.2"/><rect x="1600.00" y="665.6" width="3.26" height="4.6"/><rect x="1603.26" y="605.9" width="3.26" height="59.7"/><rect x="1606.51" y="654.6" width="3.26" height="11.0"/><rect x="1609.77" y="665.6" width="3.26" height="72.5"/><rect x="1613.03" y="611.4" width="3.26" height="54.2"/><rect x="1616.29" y="625.2" width="3.26" height="40.4"/><rect x="1619.55" y="603.2" width="3.26" height="62.4"/><rect x="1622.80" y="657.3" width="3.26" height="8.3"/><rect x="1626.06" y="665.6" width="3.26" height="48.7"/><rect x="1629.32" y="636.2" width="3.26" height="29.4"/><rect x="1632.58" y="649.1" width="3.26" height="16.5"/><rect x="1635.83" y="643.6" width="3.26" height="22.0"/><rect x="1639.09" y="603.2" width="3.26" height="62.4"/><rect x="1642.35" y="665.6" width="3.26" height="111.1"/><rect x="1645.61" y="665.6" width="3.26" height="13.8"/><rect x="1648.87" y="661.0" width="3.26" height="4.6"/><rect x="1652.12" y="492.1" width="3.26" height="173.5"/><rect x="1655.38" y="665.6" width="3.26" height="87.2"/><rect x="1658.64" y="633.0" width="3.26" height="32.6"/><rect x="1661.90" y="557.3" width="3.26" height="108.3"/><rect x="1665.15" y="665.6" width="3.26" height="78.0"/><rect x="1668.41" y="625.2" width="3.26" height="40.4"/><rect x="1671.67" y="665.6" width="3.26" height="1.8"/><rect x="1674.93" y="560.0" width="3.26" height="105.6"/><rect x="1678.19" y="623.4" width="3.26" height="42.2"/><rect x="1681.44" y="576.5" width="3.26" height="89.1"/><rect x="1684.70" y="619.7" width="3.26" height="45.9"/><rect x="1687.96" y="629.8" width="3.26" height="35.8"/><rect x="1691.22" y="535.2" width="3.26" height="130.4"/><rect x="1694.47" y="481.0" width="3.26" height="184.6"/><rect x="1697.73" y="665.6" width="3.26" height="58.8"/><rect x="1700.99" y="665.6" width="3.26" height="34.9"/><rect x="1704.25" y="527.0" width="3.26" height="138.6"/><rect x="1707.51" y="622.4" width="3.26" height="43.2"/><rect x="1710.76" y="665.6" width="3.26" height="29.4"/><rect x="1714.02" y="513.2" width="3.26" height="152.4"/><rect x="1717.28" y="665.6" width="3.26" height="140.5"/><rect x="1720.54" y="665.6" width="3.26" height="89.1"/><rect x="1723.79" y="648.2" width="3.26" height="17.4"/><rect x="1727.05" y="665.6" width="3.26" height="4.6"/><rect x="1730.31" y="603.2" width="3.26" height="62.4"/><rect x="1733.57" y="665.6" width="3.26" height="42.2"/><rect x="1736.83" y="519.6" width="3.26" height="146.0"/><rect x="1740.08" y="665.6" width="3.26" height="94.2"/><rect x="1743.34" y="665.6" width="3.26" height="114.8"/><rect x="1746.60" y="626.1" width="3.26" height="39.5"/><rect x="1749.86" y="557.3" width="3.26" height="108.3"/><rect x="1753.12" y="650.0" width="3.26" height="15.6"/><rect x="1756.37" y="573.8" width="3.26" height="91.8"/><rect x="1759.63" y="665.6" width="3.26" height="112.9"/><rect x="1762.89" y="665.6" width="3.26" height="16.5"/><rect x="1766.15" y="661.9" width="3.26" height="3.7"/><rect x="1769.40" y="510.4" width="3.26" height="155.2"/><rect x="1772.66" y="657.3" width="3.26" height="8.3"/><rect x="1775.92" y="597.7" width="3.26" height="67.9"/><rect x="1779.18" y="470.0" width="3.26" height="195.6"/><rect x="1782.44" y="592.1" width="3.26" height="73.5"/><rect x="1785.69" y="665.6" width="3.26" height="115.7"/><rect x="1788.95" y="655.5" width="3.26" height="10.1"/><rect x="1792.21" y="533.4" width="3.26" height="132.2"/><rect x="1795.47" y="665.6" width="3.26" height="23.9"/><rect x="1798.72" y="665.6" width="3.26" height="162.5"/><rect x="1801.98" y="555.0" width="3.26" height="110.6"/><rect x="1805.24" y="584.8" width="3.26" height="80.8"/><rect x="1808.50" y="627.0" width="3.26" height="38.6"/><rect x="1811.76" y="580.7" width="3.26" height="84.9"/></g>
<line x1="191.0" y1="664.2" x2="1816.5" y2="664.2" stroke="#3a6680" stroke-opacity="0.85" stroke-width="2.8"/>
<g fill="#ff0000"><polygon points="244.3,764.3 250.9,782.7 270.9,783.1 255.0,794.9 260.8,813.5 244.3,802.4 227.8,813.5 233.6,794.9 217.7,783.1 237.7,782.7"/><polygon points="519.7,624.3 526.3,642.7 546.3,643.1 530.4,654.9 536.2,673.5 519.7,662.4 503.2,673.5 509.0,654.9 493.1,643.1 513.1,642.7"/><polygon points="687.3,374.0 693.9,392.4 713.9,392.8 698.0,404.6 703.8,423.2 687.3,412.1 670.8,423.2 676.6,404.6 660.7,392.8 680.7,392.4"/><polygon points="940.3,562.7 946.9,581.1 966.9,581.5 951.0,593.3 956.8,611.9 940.3,600.8 923.8,611.9 929.6,593.3 913.7,581.5 933.7,581.1"/><polygon points="1005.9,739.4 1012.5,757.8 1032.5,758.2 1016.6,770.0 1022.4,788.6 1005.9,777.5 989.4,788.6 995.2,770.0 979.3,758.2 999.3,757.8"/><polygon points="1093.9,607.3 1100.5,625.7 1120.5,626.1 1104.6,637.9 1110.4,656.5 1093.9,645.4 1077.4,656.5 1083.2,637.9 1067.3,626.1 1087.3,625.7"/><polygon points="1236.8,470.0 1243.4,488.4 1263.4,488.8 1247.5,500.6 1253.3,519.2 1236.8,508.1 1220.3,519.2 1226.1,500.6 1210.2,488.8 1230.2,488.4"/><polygon points="1285.7,691.3 1292.3,709.7 1312.3,710.1 1296.4,721.9 1302.2,740.5 1285.7,729.4 1269.2,740.5 1275.0,721.9 1259.1,710.1 1279.1,709.7"/><polygon points="1350.9,597.7 1357.5,616.1 1377.5,616.5 1361.6,628.3 1367.4,646.9 1350.9,635.8 1334.4,646.9 1340.2,628.3 1324.3,616.5 1344.3,616.1"/><polygon points="1455.3,587.8 1461.9,606.2 1481.9,606.6 1466.0,618.4 1471.8,637.0 1455.3,625.9 1438.8,637.0 1444.6,618.4 1428.7,606.6 1448.7,606.2"/><polygon points="1569.0,727.0 1575.6,745.4 1595.6,745.8 1579.7,757.6 1585.5,776.2 1569.0,765.1 1552.5,776.2 1558.3,757.6 1542.4,745.8 1562.4,745.4"/><polygon points="1739.0,480.1 1745.6,498.5 1765.6,498.9 1749.7,510.7 1755.5,529.3 1739.0,518.2 1722.5,529.3 1728.3,510.7 1712.4,498.9 1732.4,498.5"/></g>
<rect x="187" y="19.2" width="3" height="1289.8" fill="#a9a9a9"/><rect x="187" y="19.2" width="1633.8" height="2.8" fill="#7a7a7a"/><rect x="192.3" y="24.8" width="1620.2" height="3.1" fill="#d0d0d0"/><rect x="1818.4" y="19.2" width="2.4" height="1289.8" fill="#dadada"/><rect x="190" y="22" width="2.3" height="1287" fill="#1c1c1c"/><rect x="190" y="22" width="1628.4" height="2.8" fill="#202020"/><rect x="1815.2" y="22" width="3.2" height="1287" fill="#1e1e1e"/><rect x="190" y="1303.9" width="1628.4" height="5.1" fill="#242424"/>
<g stroke="#282828" stroke-width="5"><line x1="353.9" y1="1306" x2="353.9" y2="1289.5"/><line x1="353.9" y1="23" x2="353.9" y2="40.5"/><line x1="516.8" y1="1306" x2="516.8" y2="1289.5"/><line x1="516.8" y1="23" x2="516.8" y2="40.5"/><line x1="679.7" y1="1306" x2="679.7" y2="1289.5"/><line x1="679.7" y1="23" x2="679.7" y2="40.5"/><line x1="842.6" y1="1306" x2="842.6" y2="1289.5"/><line x1="842.6" y1="23" x2="842.6" y2="40.5"/><line x1="1005.5" y1="1306" x2="1005.5" y2="1289.5"/><line x1="1005.5" y1="23" x2="1005.5" y2="40.5"/><line x1="1168.3" y1="1306" x2="1168.3" y2="1289.5"/><line x1="1168.3" y1="23" x2="1168.3" y2="40.5"/><line x1="1331.2" y1="1306" x2="1331.2" y2="1289.5"/><line x1="1331.2" y1="23" x2="1331.2" y2="40.5"/><line x1="1494.1" y1="1306" x2="1494.1" y2="1289.5"/><line x1="1494.1" y1="23" x2="1494.1" y2="40.5"/><line x1="1657.0" y1="1306" x2="1657.0" y2="1289.5"/><line x1="1657.0" y1="23" x2="1657.0" y2="40.5"/><line x1="190" y1="114.7" x2="209" y2="114.7"/><line x1="1816.6" y1="114.7" x2="1798.8" y2="114.7"/><line x1="190" y1="298.3" x2="209" y2="298.3"/><line x1="1816.6" y1="298.3" x2="1798.8" y2="298.3"/><line x1="190" y1="482.0" x2="209" y2="482.0"/><line x1="1816.6" y1="482.0" x2="1798.8" y2="482.0"/><line x1="190" y1="665.6" x2="209" y2="665.6"/><line x1="1816.6" y1="665.6" x2="1798.8" y2="665.6"/><line x1="190" y1="849.2" x2="209" y2="849.2"/><line x1="1816.6" y1="849.2" x2="1798.8" y2="849.2"/><line x1="190" y1="1032.9" x2="209" y2="1032.9"/><line x1="1816.6" y1="1032.9" x2="1798.8" y2="1032.9"/><line x1="190" y1="1216.5" x2="209" y2="1216.5"/><line x1="1816.6" y1="1216.5" x2="1798.8" y2="1216.5"/></g>
<text class="tk" x="191.0" y="1374.8" font-size="51" text-anchor="middle">0</text>
<text class="tk" x="353.9" y="1374.8" font-size="51" text-anchor="middle">50</text>
<text class="tk" x="516.8" y="1374.8" font-size="51" text-anchor="middle">100</text>
<text class="tk" x="679.7" y="1374.8" font-size="51" text-anchor="middle">150</text>
<text class="tk" x="842.6" y="1374.8" font-size="51" text-anchor="middle">200</text>
<text class="tk" x="1005.5" y="1374.8" font-size="51" text-anchor="middle">250</text>
<text class="tk" x="1168.3" y="1374.8" font-size="51" text-anchor="middle">300</text>
<text class="tk" x="1331.2" y="1374.8" font-size="51" text-anchor="middle">350</text>
<text class="tk" x="1494.1" y="1374.8" font-size="51" text-anchor="middle">400</text>
<text class="tk" x="1657.0" y="1374.8" font-size="51" text-anchor="middle">450</text>
<text class="tk" x="169" y="131.7" font-size="51" text-anchor="end">0.6</text>
<text class="tk" x="169" y="315.3" font-size="51" text-anchor="end">0.4</text>
<text class="tk" x="169" y="499.0" font-size="51" text-anchor="end">0.2</text>
<text class="tk" x="169" y="682.6" font-size="51" text-anchor="end">0</text>
<text class="tk" x="169" y="866.2" font-size="51" text-anchor="end">−0.2</text>
<text class="tk" x="169" y="1049.9" font-size="51" text-anchor="end">−0.4</text>
<text class="tk" x="169" y="1233.5" font-size="51" text-anchor="end">−0.6</text>
<text x="1005" y="1441.7" font-size="54" text-anchor="middle">Beam</text>
<text class="yl" transform="translate(53,663.5) rotate(-90)" font-size="54" text-anchor="middle">Estimated error (m)</text>
<text x="356" y="1111.6" font-size="60" fill="#000" style="fill:#000;white-space:pre" xml:space="preserve">STD = 0.09 m  MAE = 0.07 m</text>
<text x="356" y="1180.7" font-size="60" fill="#000" style="fill:#000;white-space:pre" xml:space="preserve">MAX = 0.29 m  MIN = − 0.27 m</text>
</svg></body></html>
